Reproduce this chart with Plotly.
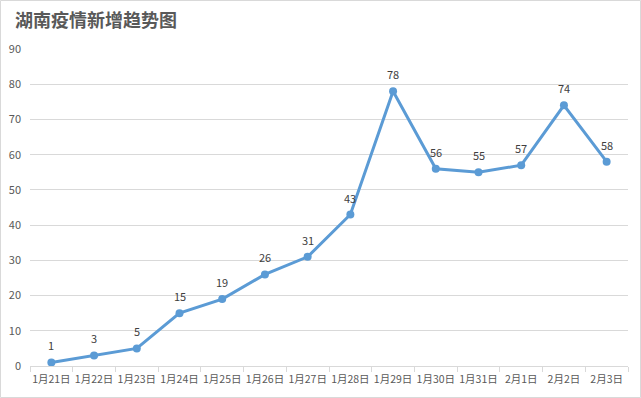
import plotly.graph_objects as go

categories = ["1月21日", "1月22日", "1月23日", "1月24日", "1月25日", "1月26日", "1月27日",
              "1月28日", "1月29日", "1月30日", "1月31日", "2月1日", "2月2日", "2月3日"]
values = [1, 3, 5, 15, 19, 26, 31, 43, 78, 56, 55, 57, 74, 58]
y_ticks = [0, 10, 20, 30, 40, 50, 60, 70, 80, 90]
title_text = "湖南疫情新增趋势图"

W, H = 641, 398
ml, mr, mt, mb = 30, 13, 49, 32
pw, ph = W - ml - mr, H - mt - mb

font_family = "Noto Sans CJK SC, Noto Sans, sans-serif"

fig = go.Figure()
fig.add_trace(go.Scatter(
    x=categories, y=values, mode="lines+markers",
    line=dict(color="#5B9BD5", width=3),
    marker=dict(color="#5B9BD5", size=8),
    cliponaxis=False, hoverinfo="skip",
))

annotations = [dict(x=c, y=v, text=str(v), showarrow=False, yshift=17,
                    font=dict(size=11, color="#404040", family=font_family))
               for c, v in zip(categories, values)]

fig.update_layout(
    width=W, height=H,
    margin=dict(l=ml, r=mr, t=mt, b=mb, autoexpand=False),
    paper_bgcolor="white", plot_bgcolor="white",
    showlegend=False,
    font=dict(family=font_family, color="#595959", size=11),
    title=dict(text="<b>" + title_text + "</b>", x=15 / W, xanchor="left",
               y=1 - 21 / H, yanchor="middle",
               font=dict(size=18, color="#595959", family=font_family)),
    xaxis=dict(
        type="category", range=[-0.5, len(categories) - 0.5],
        showgrid=False, showline=True, linecolor="#D9D9D9", linewidth=1,
        ticks="outside", tickson="boundaries", ticklen=5, tickcolor="#D9D9D9",
        tickangle=0, automargin=False, ticklabelstandoff=3,
        tickfont=dict(size=10.5, color="#595959"), fixedrange=True,
    ),
    yaxis=dict(
        range=[0, 90], tickvals=y_ticks, showgrid=True, gridcolor="#D9D9D9", gridwidth=1,
        zeroline=False, showline=False, ticks="", ticklabelstandoff=8, automargin=False,
        tickfont=dict(size=11, color="#595959"), fixedrange=True,
    ),
    annotations=annotations,
    shapes=[dict(type="rect", xref="paper", yref="paper",
                 x0=(0.5 - ml) / pw, x1=(W - 0.5 - ml) / pw,
                 y0=-(mb - 0.5) / ph, y1=(H - 0.5 - mb) / ph,
                 line=dict(color="#D9D9D9", width=1), layer="below")],
)

fig.write_html("out.html")
